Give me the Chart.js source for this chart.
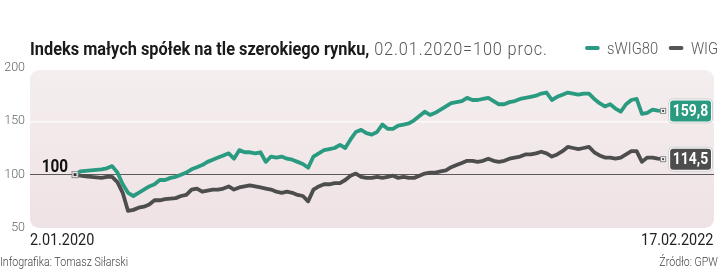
<!DOCTYPE html>
<html><head><meta charset="utf-8">
<script src="https://cdn.jsdelivr.net/npm/chart.js@4"></script>
<style>
html,body{margin:0;padding:0;background:#fff;}
#wrap{position:relative;width:720px;height:277px;overflow:hidden;font-family:Roboto,sans-serif;}
#c{position:absolute;left:0;top:0;}
.t{position:absolute;white-space:nowrap;}
#title{left:30px;top:37px;font-size:19px;color:#1a1a1a;transform:scaleX(0.86);transform-origin:left top;}
#title b{font-weight:bold;}
#title span{color:#555;font-weight:300;letter-spacing:1px;}
#legend{left:585px;top:39px;font-size:16px;color:#555;font-weight:300;transform:scaleX(0.92);transform-origin:left top;}
#legend i{display:inline-block;width:16px;height:4px;border-radius:2px;vertical-align:middle;margin:0 8px 3px 0;}
#d1{left:30px;top:230px;font-size:16px;color:#222;transform:scaleX(0.9);transform-origin:left top;}
#d2{right:7px;top:230px;font-size:16px;color:#222;transform:scaleX(0.9);transform-origin:right top;}
#f1{left:0px;top:254px;font-size:12.5px;color:#444;font-weight:300;transform:scaleX(0.85);transform-origin:left top;}
#f2{right:2px;top:254px;font-size:12.5px;color:#444;font-weight:300;transform:scaleX(0.85);transform-origin:right top;}
</style></head>
<body><div id="wrap">
<canvas id="c" width="720" height="277"></canvas>
<div class="t" id="title"><b>Indeks małych spółek na tle szerokiego rynku,</b><span> 02.01.2020=100 proc.</span></div>
<div class="t" id="legend"><i style="background:#2a9a80"></i>sWIG80&nbsp;&nbsp;&nbsp;<i style="background:#555"></i>WIG</div>
<div class="t" id="d1">2.01.2020</div>
<div class="t" id="d2">17.02.2022</div>
<div class="t" id="f1">Infografika: Tomasz Siłarski</div>
<div class="t" id="f2">Źródło: GPW</div>
</div>
<script>
// weekly readings, 2.01.2020 .. 17.02.2022 (index 2.01.2020 = 100)
const seriesNames = ["sWIG80", "WIG"];
const sWIG80 = [100,103,103.5,104,104.5,105,106,108,102,91,83,80,83,86,89,91,95,95,97,98,
 100,102,105,107,109,112,114,116,118,120,115,123,121,121,120,121,112,117,116,117,
 115,114,112,110,106.5,117,120,123,124,125,128,125,133,140,142,139,137.5,140,147,143,
 143,146,147,148,151,155,159,156,158,161,164,167,168,169,172,170,170,171,172,169,
 166,166,168,169,171,172,173,174,176,177,170,173,175,177,176,175,176,176,171,167,
 164,166,162,159,166,170,171,157,158,161,160,159.8];
const WIG = [100,99,98.5,98,97.5,97,98,98,93,83,66,67,69,70,72,76,76,77,77.5,78,
 80,81,86,87,84,85,86,86,87,89,86,88,89,90,89,88,87,86,84,83,
 84,83,81,80,75,86,89,91,91,92,92,95,99,101,98,97,97,98,97,98,
 99,97,98,97,97,99,101,102,102,103,104,107,109,111,113,113,112,113,115,113,
 112,113,115,116,117,119,119,120,121.5,120,117,119,122,126,125,124,125,126,121,118,
 116,116,115,116,119,122,122,112,116,116,115,114.5];
const yTicks = [50,100,150,200];
const endLabels = {sWIG80:"159,8", WIG:"114,5"};
const startLabel = "100";
const colors = {sWIG80:"#2a9a80", WIG:"#4d4d4d"};

function condText(ctx, txt, x, y, sx, align){
  ctx.save();
  ctx.translate(x,y); ctx.scale(sx,1);
  ctx.textAlign=align; ctx.fillText(txt,0,0);
  ctx.restore();
}

const bgPlugin = {
  id:'bg',
  beforeDraw(chart){
    const {ctx, chartArea:a} = chart;
    const top=a.top+2, bot=a.bottom, l=a.left, r=a.right, rad=9;
    const g = ctx.createLinearGradient(0,top,0,bot);
    g.addColorStop(0,'#f4eeef'); g.addColorStop(1,'#efe2e4');
    ctx.save(); ctx.fillStyle=g;
    ctx.beginPath(); ctx.roundRect(l,top,r-l,bot-top,rad); ctx.fill(); ctx.restore();
  },
  afterDatasetsDraw(chart){
    const {ctx, chartArea:a} = chart;
    ctx.save();
    chart.data.datasets.forEach((ds,i)=>{
      const pts = chart.getDatasetMeta(i).data;
      const p = pts[pts.length-1];
      ctx.fillStyle='#fff'; ctx.strokeStyle='#888'; ctx.lineWidth=1;
      ctx.fillRect(p.x-2.5,p.y-2.5,5,5); ctx.strokeRect(p.x-2.5,p.y-2.5,5,5);
      ctx.fillStyle='#444'; ctx.fillRect(p.x-1,p.y-1,2,2);
      const bx=p.x+7, bw=a.right-3-bx, bh=21, by=p.y-bh/2;
      ctx.fillStyle='#fff'; ctx.strokeStyle='#d0d0d0'; ctx.lineWidth=1;
      ctx.beginPath(); ctx.roundRect(bx-1.5,by-1.5,bw+3,bh+3,4); ctx.fill(); ctx.stroke();
      ctx.fillStyle=colors[ds.label];
      ctx.beginPath(); ctx.roundRect(bx,by,bw,bh,3); ctx.fill();
      ctx.fillStyle='#fff'; ctx.font='bold 17px Roboto, sans-serif';
      ctx.textBaseline='middle';
      condText(ctx, endLabels[ds.label], bx+bw/2, p.y+1, 0.82, 'center');
    });
    const s = chart.getDatasetMeta(0).data[0];
    ctx.fillStyle='#fff'; ctx.strokeStyle='#888'; ctx.lineWidth=1;
    ctx.fillRect(s.x-3,s.y-3,6,6); ctx.strokeRect(s.x-3,s.y-3,6,6);
    ctx.fillStyle='#333'; ctx.fillRect(s.x-1.5,s.y-1.5,3,3);
    ctx.fillStyle='#111'; ctx.font='bold 18px Roboto, sans-serif';
    ctx.textBaseline='alphabetic';
    condText(ctx, startLabel, s.x-7, s.y-3, 0.85, 'right');
    ctx.restore();
  }
};

new Chart(document.getElementById('c'), {
  type:'line',
  data:{
    datasets:[
      {label:seriesNames[1], data:WIG.map((v,i)=>({x:i,y:v})), borderColor:colors.WIG, order:2},
      {label:seriesNames[0], data:sWIG80.map((v,i)=>({x:i,y:v})), borderColor:colors.sWIG80, order:1}
    ].map(d=>Object.assign(d,{borderWidth:3.8,pointRadius:0,tension:0,borderJoinStyle:'round',borderCapStyle:'round',fill:false}))
  },
  options:{
    responsive:false, animation:false, devicePixelRatio:1,
    layout:{padding:{left:0,right:6,top:68,bottom:49}},
    plugins:{legend:{display:false},tooltip:{enabled:false}},
    scales:{
      x:{type:'linear',min:-8.5,max:120.6,display:false},
      y:{min:50,max:200,
        afterFit(s){s.width=30;},
        afterBuildTicks(s){s.ticks=yTicks.map(v=>({value:v}));},
        border:{display:false},
        grid:{drawTicks:false,
          color:(c)=>c.tick.value===100?'#5a5a5a':(c.tick.value===150?'rgba(255,255,255,0.7)':'rgba(0,0,0,0)'),
          lineWidth:(c)=>c.tick.value===150?1.5:1},
        ticks:{color:'#666',padding:5,font:{family:'Roboto, sans-serif',size:12.5,weight:'300'}}
      }
    }
  },
  plugins:[bgPlugin]
});
</script>
</body></html>
